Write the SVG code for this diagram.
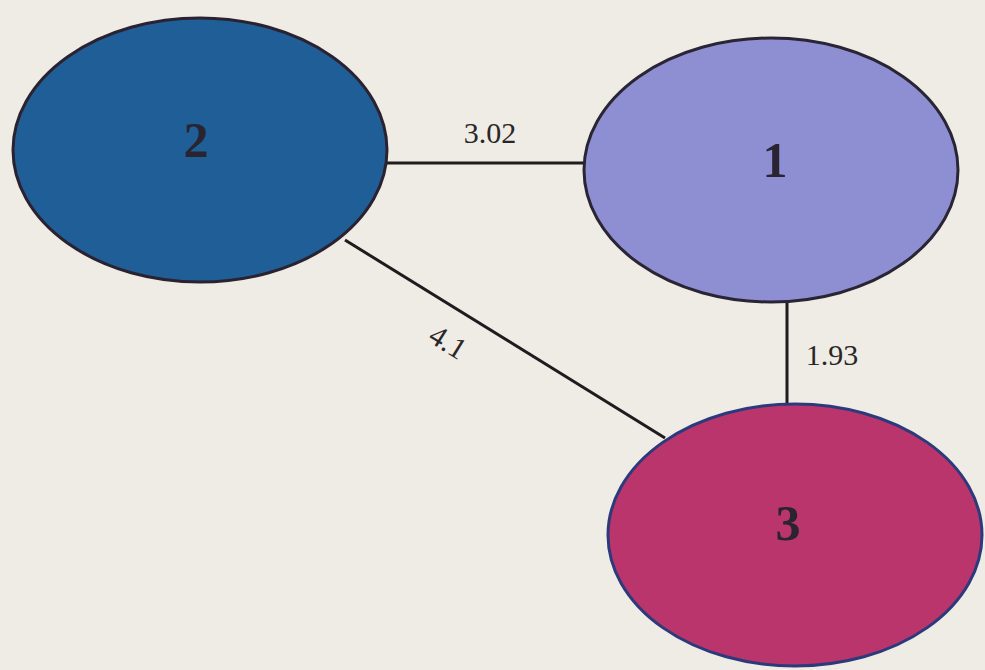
<svg xmlns="http://www.w3.org/2000/svg" width="985" height="670" viewBox="0 0 985 670">
<style>
.edge{stroke:#1f1b1e;stroke-width:3;fill:none}
.elabel{font-family:"Liberation Serif",serif;font-size:30px;fill:#2a2628}
.nlabel{font-family:"Liberation Serif",serif;font-size:50px;font-weight:bold;fill:#2a2430;text-anchor:middle}
.node{stroke-width:3}
</style>
<rect width="985" height="670" fill="#efece5"/>
<g id="connectors">
<line class="edge" x1="387" y1="163" x2="585" y2="163"/>
<line class="edge" x1="345" y1="240" x2="665" y2="438"/>
<line class="edge" x1="787" y1="302" x2="787" y2="404"/>
<text class="elabel" x="490" y="143" text-anchor="middle">3.02</text>
<text class="elabel" x="448" y="352" text-anchor="middle" transform="rotate(32 448 342)">4.1</text>
<text class="elabel" x="832" y="365" text-anchor="middle">1.93</text>
</g>
<g id="node2">
<ellipse class="node" cx="200" cy="150" rx="187" ry="132" fill="#1f5e96" stroke="#2a2230"/>
<text class="nlabel" x="196" y="157">2</text>
</g>
<g id="node1">
<ellipse class="node" cx="771" cy="170" rx="187" ry="132" fill="#8e8fd2" stroke="#2a2535"/>
<text class="nlabel" x="775" y="177">1</text>
</g>
<g id="node3">
<ellipse class="node" cx="795" cy="535" rx="187" ry="131" fill="#b9356b" stroke="#2c3a7c"/>
<text class="nlabel" x="788" y="540">3</text>
</g>
</svg>
